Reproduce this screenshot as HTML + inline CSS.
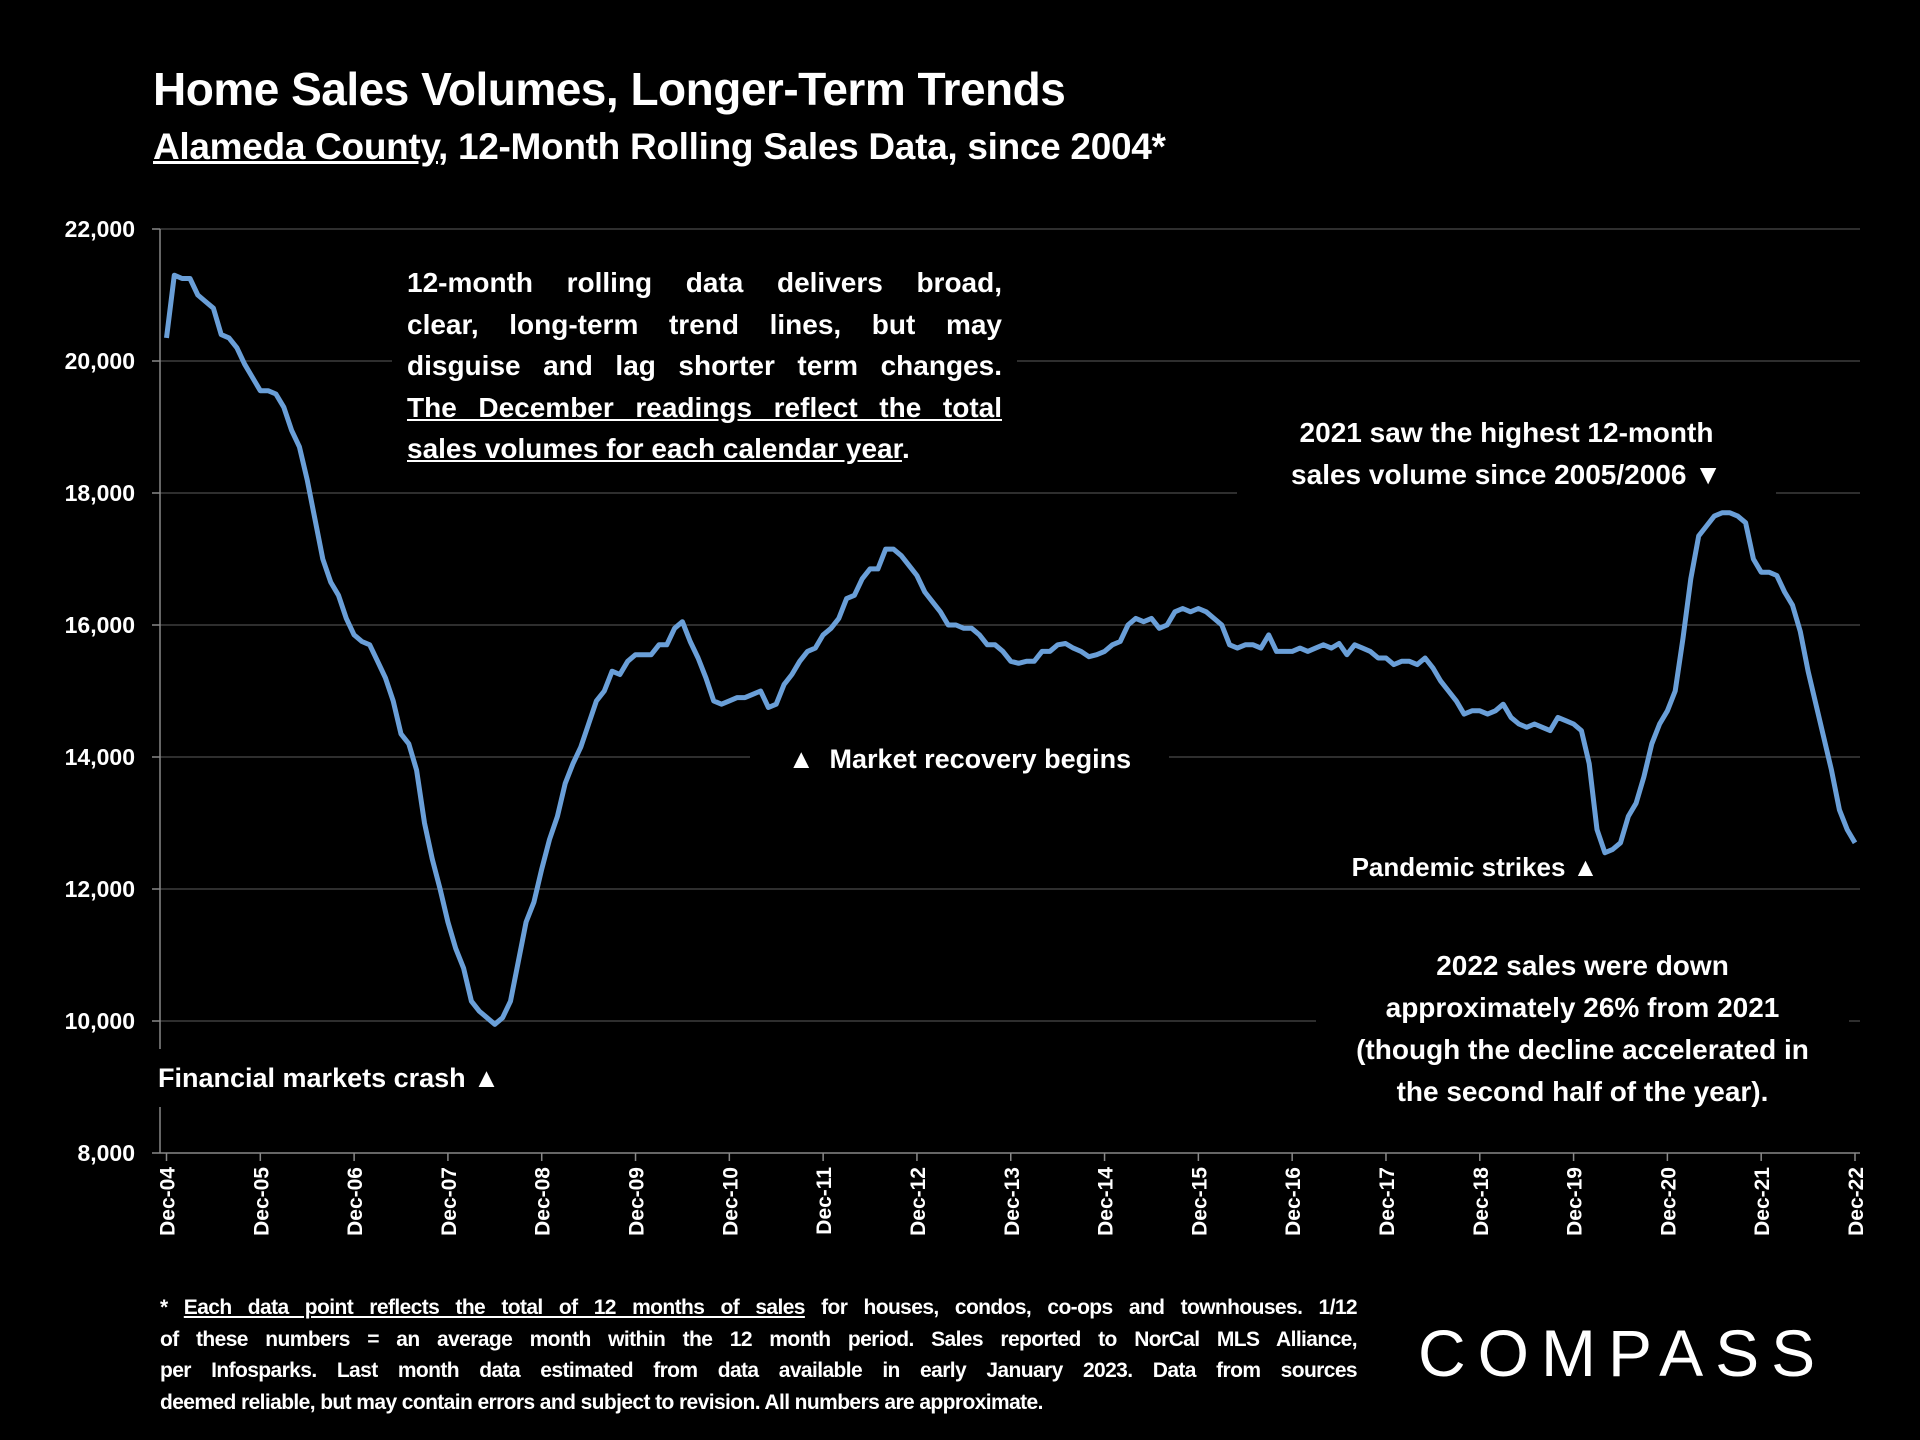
<!DOCTYPE html>
<html><head><meta charset="utf-8">
<style>
html,body{margin:0;padding:0;background:#000;}
body{width:1920px;height:1440px;position:relative;overflow:hidden;font-family:"Liberation Sans",sans-serif;color:#fff;font-weight:bold;}
.abs{position:absolute;}
.j div{text-align:justify;text-align-last:justify;white-space:nowrap;}
.j div.last{text-align-last:left;}
.bg{background:#000;}
</style></head><body>
<div class="abs" style="left:153px;top:62px;font-size:46px;letter-spacing:-0.5px;">Home Sales Volumes, Longer-Term Trends</div>
<div class="abs" style="left:153px;top:126px;font-size:37px;letter-spacing:-0.3px;"><u>Alameda County</u>, 12-Month Rolling Sales Data, since 2004*</div>

<svg id="chart" class="abs" style="left:0;top:0" width="1920" height="1440"></svg>

<div class="abs bg j" style="left:392px;top:262px;width:595px;padding:0 15px;font-size:28px;line-height:41.5px;">
<div>12-month rolling data delivers broad,</div>
<div>clear, long-term trend lines, but may</div>
<div>disguise and lag shorter term changes.</div>
<div><u>The December readings reflect the total</u></div>
<div class="last"><u>sales volumes for each calendar year</u>.</div>
</div>
<div class="abs bg" style="left:1237px;top:412px;width:539px;text-align:center;font-size:28px;line-height:42px;">2021 saw the highest 12-month<br>sales volume since 2005/2006 ▼</div>
<div class="abs bg" style="left:750px;top:740px;width:419px;text-align:center;font-size:27px;line-height:38px;">▲&nbsp; Market recovery begins</div>
<div class="abs" style="left:1340px;top:849px;width:270px;text-align:center;font-size:26px;line-height:36px;">Pandemic strikes ▲</div>
<div class="abs bg" style="left:1316px;top:945px;width:533px;text-align:center;font-size:28px;line-height:42px;">2022 sales were down<br>approximately 26% from 2021<br>(though the decline accelerated in<br>the second half of the year).</div>
<div class="abs bg" style="left:158px;top:1049px;width:360px;font-size:27px;line-height:58px;">Financial markets crash ▲</div>

<div class="abs j" style="left:160px;top:1292px;width:1197px;font-size:21px;line-height:31.5px;letter-spacing:-0.6px;">
<div>* <u>Each data point reflects the total of 12 months of sales</u> for houses, condos, co-ops and townhouses. 1/12</div>
<div>of these numbers = an average month within the 12 month period. Sales reported to NorCal MLS Alliance,</div>
<div>per Infosparks. Last month data estimated from data available in early January 2023. Data from sources</div>
<div class="last">deemed reliable, but may contain errors and subject to revision. All numbers are approximate.</div>
</div>
<div class="abs" style="left:1418px;top:1318px;font-size:66px;font-weight:normal;letter-spacing:12px;line-height:70px;">COMPASS</div>

<script>
const yTicks=[8000,10000,12000,14000,16000,18000,20000,22000];
const xLabels=["Dec-04","Dec-05","Dec-06","Dec-07","Dec-08","Dec-09","Dec-10","Dec-11","Dec-12","Dec-13","Dec-14","Dec-15","Dec-16","Dec-17","Dec-18","Dec-19","Dec-20","Dec-21","Dec-22"];
const start=[20.35];
const y2005=[21.3,21.25,21.25,21.0,20.9,20.8,20.4,20.35,20.2,19.95,19.75,19.55];
const y2006=[19.55,19.5,19.3,18.95,18.7,18.2,17.6,17.0,16.65,16.45,16.1,15.85];
const y2007=[15.75,15.7,15.45,15.2,14.85,14.35,14.2,13.8,13.0,12.45,12.0,11.5];
const y2008=[11.1,10.8,10.3,10.15,10.05,9.95,10.05,10.3,10.9,11.5,11.8,12.3];
const y2009=[12.75,13.1,13.6,13.9,14.15,14.5,14.85,15.0,15.3,15.25,15.45,15.55];
const y2010=[15.55,15.55,15.7,15.7,15.95,16.05,15.75,15.5,15.2,14.85,14.8,14.85];
const y2011=[14.9,14.9,14.95,15.0,14.75,14.8,15.1,15.25,15.45,15.6,15.65,15.85];
const y2012=[15.95,16.1,16.4,16.45,16.7,16.85,16.85,17.15,17.15,17.05,16.9,16.75];
const y2013=[16.5,16.35,16.2,16.0,16.0,15.95,15.95,15.85,15.7,15.7,15.6,15.45];
const y2014=[15.42,15.45,15.45,15.6,15.6,15.7,15.72,15.65,15.6,15.52,15.55,15.6];
const y2015=[15.7,15.75,16.0,16.1,16.05,16.1,15.95,16.0,16.2,16.25,16.2,16.25];
const y2016=[16.2,16.1,16.0,15.7,15.65,15.7,15.7,15.65,15.85,15.6,15.6,15.6];
const y2017=[15.65,15.6,15.65,15.7,15.65,15.72,15.55,15.7,15.65,15.6,15.5,15.5];
const y2018=[15.4,15.45,15.45,15.4,15.5,15.35,15.15,15.0,14.85,14.65,14.7,14.7];
const y2019=[14.65,14.7,14.8,14.6,14.5,14.45,14.5,14.45,14.4,14.6,14.55,14.5];
const y2020=[14.4,13.9,12.9,12.55,12.6,12.7,13.1,13.3,13.7,14.2,14.5,14.7];
const y2021=[15.0,15.8,16.7,17.35,17.5,17.65,17.7,17.7,17.65,17.55,17.0,16.8];
const y2022=[16.8,16.75,16.5,16.3,15.9,15.3,14.8,14.3,13.8,13.2,12.9,12.7];
const values=[].concat(start,y2005,y2006,y2007,y2008,y2009,y2010,y2011,y2012,y2013,y2014,y2015,y2016,y2017,y2018,y2019,y2020,y2021,y2022).map(v=>v*1000);

const svg=document.getElementById('chart');
const NS='http://www.w3.org/2000/svg';
const X0=166.5,X1=1855,Y0=1153,Y1=229,AX=160;
const nMonths=(xLabels.length-1)*12;
function xScale(i){return X0+(X1-X0)*i/nMonths;}
function yScale(v){return Y0-(v-8000)/(22000-8000)*(Y0-Y1);}
function mk(tag,attrs){const e=document.createElementNS(NS,tag);for(const k in attrs)e.setAttribute(k,attrs[k]);svg.appendChild(e);return e;}

yTicks.forEach(t=>{
  const y=yScale(t);
  if(t>8000){
    const g=mk('line',{x1:AX,x2:1860,y1:y,y2:y,stroke:'#4a4a4a','stroke-width':1.3});
    
    
  }
  const tk=mk('line',{x1:AX-8,x2:AX,y1:y,y2:y,stroke:'#888','stroke-width':1.5});
  
  
  const tx=mk('text',{x:135,y:y+8,'text-anchor':'end',fill:'#fff','font-size':23,'font-weight':'bold','font-family':'Liberation Sans, sans-serif'});
  tx.textContent=t.toLocaleString('en-US');
  
  
});
const ya=mk('line',{x1:AX,x2:AX,y1:Y1,y2:Y0,stroke:'#888','stroke-width':1.5});


const xa=mk('line',{x1:AX,x2:1860,y1:Y0,y2:Y0,stroke:'#888','stroke-width':1.5});


xLabels.forEach((l,k)=>{
  const x=xScale(k*12);
  const tk=mk('line',{x1:x,x2:x,y1:Y0,y2:Y0+8,stroke:'#888','stroke-width':1.5});
  
  
  const tx=mk('text',{x:0,y:0,'text-anchor':'end',fill:'#fff','font-size':21,'font-weight':'bold','font-family':'Liberation Sans, sans-serif',transform:`translate(${x+8},${Y0+14}) rotate(-90)`});
  tx.textContent=l;
  
  
});
let d='';
values.forEach((v,i)=>{d+=(i?'L':'M')+xScale(i).toFixed(1)+','+yScale(v).toFixed(1);});
const p=mk('path',{d:d,fill:'none',stroke:'#6a9fd8','stroke-width':5,'stroke-linejoin':'round'});


</script>
</body></html>
